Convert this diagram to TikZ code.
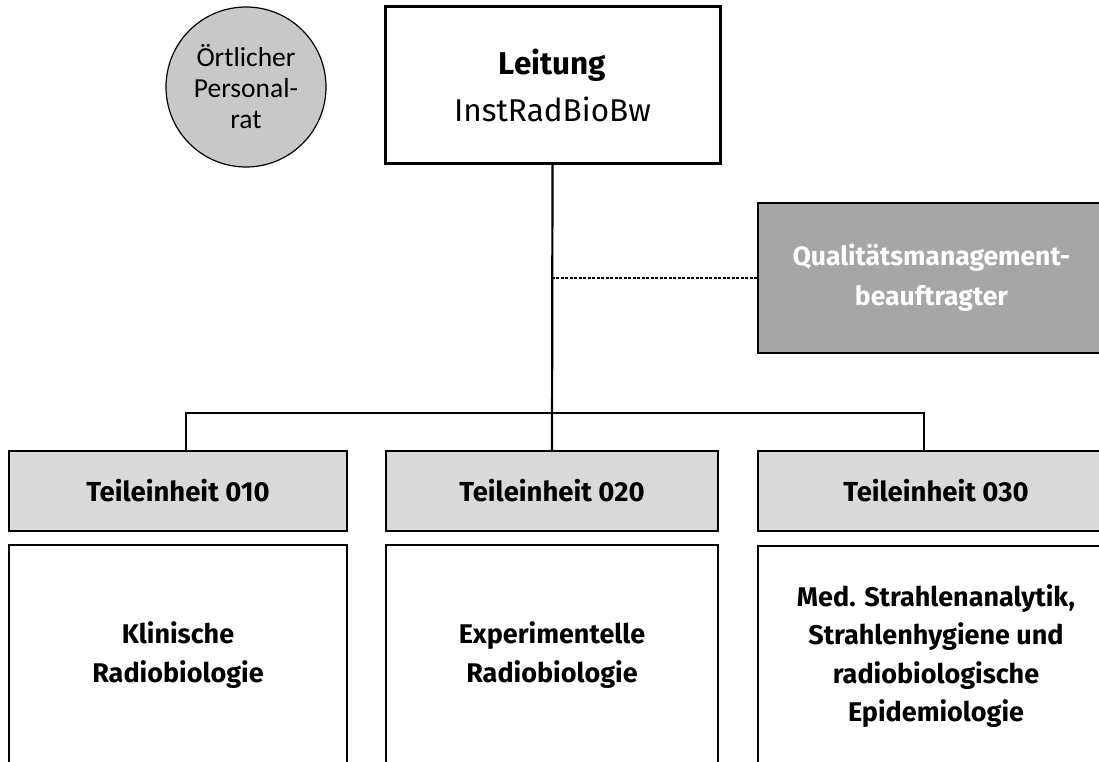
\documentclass[tikz,border=0pt]{standalone}
\usepackage{fontspec}
\setmainfont{Fira Sans}
\newfontfamily\calfont{Carlito}
\definecolor{tilegray}{HTML}{D9D9D9}
\definecolor{qmgray}{HTML}{A6A6A6}
\definecolor{circgray}{HTML}{C8C8C8}
\begin{document}
\begin{tikzpicture}[x=1pt,y=-1pt,
  box/.style={draw, line width=2pt, rectangle, inner sep=0pt, align=center},
  tile/.style={box, fill=tilegray, minimum height=80pt, font=\bfseries\fontsize{27.5}{38}\selectfont},
  unit/.style={box, fill=white, minimum height=220pt, font=\bfseries\fontsize{27}{38.5}\selectfont},
  conn/.style={line width=2.2pt}]
\useasboundingbox (0,0) rectangle (1099,762);
\clip (0,0) rectangle (1099,762);
\node[box, line width=3pt, minimum width=335pt, minimum height=157pt,
      font=\fontsize{31.5}{47}\selectfont] (lead) at (552.5,85) {\textbf{Leitung}\\InstRadBioBw};
\node[circle, draw, fill=circgray, line width=1.2pt, minimum size=160pt, inner sep=0pt,
      align=center, font=\calfont\fontsize{27.5}{31}\selectfont] (pr) at (246,87) {Örtlicher\\Personal-\\rat};
\node[box, fill=qmgray, text=white, minimum width=347pt, minimum height=150pt,
      font=\bfseries\fontsize{26.5}{40}\selectfont] (qm) at (931.5,278) {Qualitätsmanagement-\\beauftragter};
\node[tile, minimum width=338pt] (t1) at (178,491) {Teileinheit 010};
\node[tile, minimum width=332pt] (t2) at (552,491) {Teileinheit 020};
\node[tile, minimum width=356pt] (t3) at (936,491) {Teileinheit 030};
\node[unit, minimum width=338pt] (b1) at (178,655) {Klinische\\Radiobiologie};
\node[unit, minimum width=332pt] (b2) at (552,655) {Experimentelle\\Radiobiologie};
\node[unit, minimum width=356pt] (b3) at (936,656) {Med. Strahlenanalytik,\\Strahlenhygiene und\\radiobiologische\\Epidemiologie};
\coordinate (bar) at (552,413);
\draw[conn] (lead.south) -- (t2.north);
\draw[conn] ([xshift=8pt]t1.north) |- (bar) -| ([xshift=-12pt]t3.north);
\draw[line width=2pt, dash pattern=on 3pt off 1.5pt] (qm.west) -- (qm.west -| lead.south);
\end{tikzpicture}
\end{document}
